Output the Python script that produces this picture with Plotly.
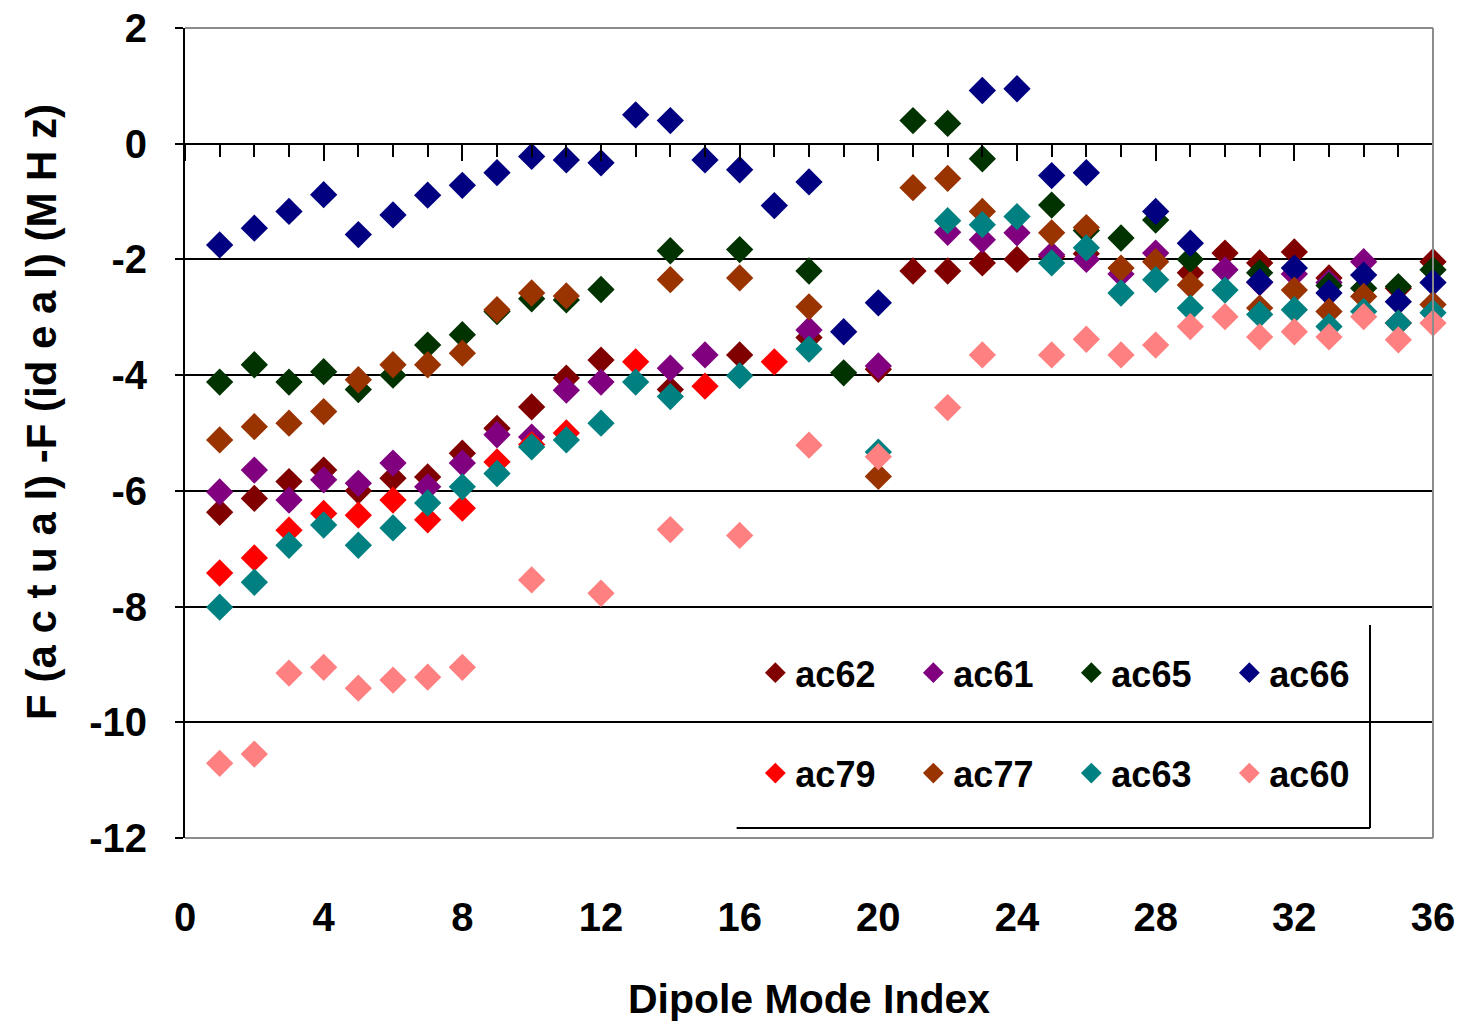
import plotly.graph_objects as go

mode_index = list(range(1, 37))

ac62 = [-6.37, -6.13, -5.84, -5.64, -6.00, -5.78, -5.76, -5.35, -4.92, -4.55, -4.05, -3.74,
        None, -4.25, None, -3.65, None, -3.35, None, -3.90, -2.20, -2.20, -2.06, -2.00,
        -1.95, -1.90, None, None, -2.23, -1.89, -2.06, -1.87, -2.32, None, -2.50, -2.04]
ac61 = [-6.02, -5.64, -6.16, -5.81, -5.87, -5.52, -5.93, -5.52, -5.03, -5.07, -4.26, -4.12,
        None, -3.88, -3.65, None, None, -3.22, None, -3.84, None, -1.53, -1.66, -1.54,
        -1.92, -2.00, -2.25, -1.89, None, -2.18, -2.40, -2.25, -2.40, -2.04, None, None]
ac65 = [-4.12, -3.82, -4.12, -3.94, -4.25, -4.00, -3.48, -3.30, -2.90, -2.68, -2.70, -2.52,
        None, -1.85, None, -1.83, None, -2.20, -3.96, None, 0.40, 0.35, -0.26, None,
        -1.06, -1.50, -1.63, -1.32, -2.00, None, -2.23, None, -2.45, -2.50, -2.47, -2.18]
ac66 = [-1.75, -1.46, -1.17, -0.88, -1.57, -1.23, -0.89, -0.72, -0.50, -0.22, -0.28, -0.33,
        0.50, 0.40, -0.28, -0.45, -1.07, -0.66, -3.25, -2.75, None, None, 0.92, 0.95,
        -0.55, -0.50, None, -1.17, -1.72, None, -2.39, -2.15, -2.58, -2.27, -2.73, -2.40]
ac79 = [-7.42, -7.16, -6.68, -6.39, -6.42, -6.16, -6.50, -6.30, -5.50, -5.20, -5.00, None,
        -3.77, None, -4.19, None, -3.77, None, None, None, None, None, None, None,
        None, None, None, None, None, None, None, None, None, None, None, None]
ac77 = [-5.12, -4.89, -4.83, -4.63, -4.08, -3.82, -3.82, -3.62, -2.87, -2.58, -2.63, None,
        None, -2.35, None, -2.32, None, -2.82, None, -5.75, -0.76, -0.60, -1.17, None,
        -1.54, -1.45, -2.15, -2.04, -2.44, None, -2.84, -2.53, -2.90, -2.64, -3.10, -2.78]
ac63 = [-8.01, -7.58, -6.94, -6.59, -6.94, -6.64, -6.21, -5.93, -5.70, -5.24, -5.12, -4.83,
        -4.12, -4.37, None, -4.01, None, -3.55, None, -5.33, None, -1.33, -1.40, -1.26,
        -2.06, -1.80, -2.58, -2.35, -2.84, -2.53, -2.95, -2.87, -3.16, -2.90, -3.10, -2.92]
ac60 = [-10.71, -10.55, -9.15, -9.05, -9.41, -9.27, -9.22, -9.05, None, -7.54, None, -7.77,
        None, -6.67, None, -6.77, None, -5.21, None, -5.41, None, -4.56, -3.65, None,
        -3.65, -3.38, -3.65, -3.48, -3.16, -2.99, -3.34, -3.25, -3.34, -2.99, -3.39, -3.10]

series_names = ["ac62", "ac61", "ac65", "ac66", "ac79", "ac77", "ac63", "ac60"]
series_values = [ac62, ac61, ac65, ac66, ac79, ac77, ac63, ac60]
series_colors = ["#800000", "#800080", "#003300", "#000080", "#FF0000", "#993300", "#008080", "#FF8080"]

x_tick_vals = [0, 4, 8, 12, 16, 20, 24, 28, 32, 36]
y_tick_vals = [-12, -10, -8, -6, -4, -2, 0, 2]
y_title = "F (a c t u a l) -F (id e a l) (M H z)"
x_title = "Dipole Mode Index"

FONT = "Liberation Sans, Arial, sans-serif"

fig = go.Figure()
for i, (name, vals, col) in enumerate(zip(series_names, series_values, series_colors)):
    fig.add_trace(go.Scatter(
        x=mode_index, y=vals, name=name, mode="markers",
        marker=dict(symbol="diamond", size=21, color=col, line=dict(width=0)),
        legend="legend" if i < 4 else "legend2",
        cliponaxis=False,
    ))

# helper trace for the tick-mark axis crossing at y = 0
fig.add_trace(go.Scatter(x=[None], y=[None], xaxis="x2", showlegend=False, hoverinfo="skip"))

fig.update_layout(
    width=1457, height=1029,
    margin=dict(l=185, r=24, t=28, b=191),
    paper_bgcolor="white", plot_bgcolor="white",
    font=dict(family=FONT, color="black"),
    xaxis=dict(
        range=[0, 36], tickvals=x_tick_vals, ticktext=[str(v) for v in x_tick_vals],
        showgrid=False, zeroline=False, automargin=False, ticklabeloverflow="allow",
        showline=False, ticks="", ticklabelstandoff=52,
        tickfont=dict(size=40, family=FONT, weight="bold"),
        title=dict(text=x_title, standoff=46,
                   font=dict(size=41, family=FONT, weight="bold")),
    ),
    xaxis2=dict(
        range=[0, 36], overlaying="x", anchor="free", position=12 / 14,
        side="bottom", showticklabels=False, showgrid=False, zeroline=False,
        showline=True, linecolor="black", linewidth=2, automargin=False,
        ticks="outside", tickvals=x_tick_vals, ticklen=16, tickwidth=2, tickcolor="black",
        minor=dict(dtick=1, ticks="outside", ticklen=12, tickwidth=2, tickcolor="black"),
    ),
    yaxis=dict(
        range=[-12, 2], tickvals=y_tick_vals, ticktext=[str(v) for v in y_tick_vals],
        showgrid=True, gridcolor="black", gridwidth=2, automargin=False,
        ticklabeloverflow="allow",
        zeroline=True, zerolinecolor="black", zerolinewidth=2,
        showline=True, linecolor="black", linewidth=2,
        ticks="outside", ticklen=8, tickwidth=2, tickcolor="black",
        ticklabelstandoff=20,
        tickfont=dict(size=40, family=FONT, weight="bold"),
    ),
    annotations=[
        dict(text=y_title, xref="paper", yref="paper", x=-0.1146, y=0.526,
             xanchor="center", yanchor="middle", textangle=-90, showarrow=False,
             font=dict(size=42, family=FONT, weight="bold", color="black")),
    ],
    legend=dict(
        orientation="h", x=0.457, y=0.204, xanchor="left", yanchor="middle",
        bgcolor="rgba(0,0,0,0)", borderwidth=0, entrywidth=113, entrywidthmode="pixels",
        font=dict(size=36, family=FONT, weight="bold"), itemwidth=30,
    ),
    legend2=dict(
        orientation="h", x=0.457, y=0.080, xanchor="left", yanchor="middle",
        bgcolor="rgba(0,0,0,0)", borderwidth=0, entrywidth=113, entrywidthmode="pixels",
        font=dict(size=36, family=FONT, weight="bold"), itemwidth=30,
    ),
    shapes=[
        # legend background and its frame lines
        dict(type="rect", xref="paper", yref="paper", x0=0.442, x1=0.9495, y0=0.0123, y1=0.263,
             fillcolor="white", line=dict(width=0), layer="below"),
        dict(type="line", xref="paper", yref="paper", x0=0.9495, x1=0.9495, y0=0.0123, y1=0.263,
             line=dict(color="black", width=2), layer="above"),
        dict(type="line", xref="paper", yref="paper", x0=0.442, x1=0.9495, y0=0.0123, y1=0.0123,
             line=dict(color="black", width=2), layer="above"),
        # grey plot-area border (top, right, bottom)
        dict(type="line", xref="paper", yref="paper", x0=0, x1=1, y0=1, y1=1,
             line=dict(color="#8c8c8c", width=2), layer="above"),
        dict(type="line", xref="paper", yref="paper", x0=1, x1=1, y0=0, y1=1,
             line=dict(color="#8c8c8c", width=2), layer="above"),
        dict(type="line", xref="paper", yref="paper", x0=0, x1=1, y0=0, y1=0,
             line=dict(color="#8c8c8c", width=2), layer="above"),
    ],
)

fig.write_html(
    "out.html",
    config={"displayModeBar": False},
    post_script="document.body.style.margin='0';document.body.style.overflow='hidden';",
)
